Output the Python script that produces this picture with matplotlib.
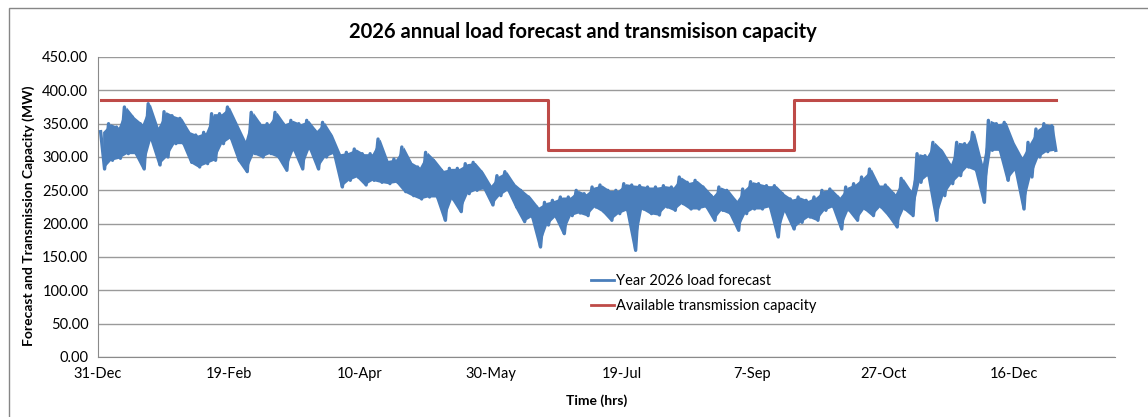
import numpy as np
import matplotlib
matplotlib.use("Agg")
import matplotlib.pyplot as plt
import matplotlib.dates as mdates
from matplotlib.patches import Rectangle
from datetime import datetime, timedelta

plt.rcParams['font.family'] = ['Lato', 'DejaVu Sans']

# Нагрузка (МВт): пары максимум/минимум, по порядку от 1 января
load_jan_mar = [338, 282, 350, 295, 345, 298, 375, 305, 360, 305, 350, 282,
                380, 325, 345, 288, 368, 300, 362, 320, 358, 320, 338, 292,
                333, 285, 337, 290, 365, 295, 365, 320, 375, 328, 350, 295,
                325, 278, 367, 305, 350, 300, 350, 305, 367, 300, 350, 280]
load_mar_may = [355, 310, 350, 282, 355, 312, 340, 282, 352, 300, 333, 305,
                305, 255, 307, 265, 312, 270, 305, 258, 305, 265, 327, 262,
                295, 260, 297, 262, 315, 248, 292, 242, 285, 237, 307, 240,
                295, 240, 280, 205, 283, 237, 283, 218, 290, 245, 292, 250]
load_may_aug = [278, 252, 258, 228, 272, 242, 278, 250, 260, 225, 250, 203,
                240, 210, 225, 165, 232, 198, 235, 210, 240, 185, 240, 212,
                250, 216, 245, 212, 255, 225, 258, 218, 250, 205, 250, 215,
                260, 220, 258, 160, 257, 222, 255, 215, 255, 213, 257, 225]
load_aug_oct = [255, 220, 270, 230, 262, 222, 265, 222, 255, 225, 242, 205,
                255, 220, 250, 215, 235, 190, 252, 215, 263, 222, 260, 222,
                257, 225, 257, 180, 245, 218, 237, 192, 240, 202, 235, 210,
                240, 205, 250, 220, 252, 225, 240, 192, 255, 220, 260, 205]
load_oct_dec = [270, 222, 282, 212, 258, 225, 258, 212, 245, 195, 268, 222,
                250, 212, 305, 262, 302, 272, 322, 205, 310, 242, 290, 260,
                322, 272, 320, 285, 337, 280, 290, 232, 355, 310, 350, 310,
                352, 265, 322, 280, 300, 222, 322, 270, 342, 300, 350, 308,
                347, 310]

# Пропускная способность (МВт) по периодам
capacity_mw = [385, 310, 385]
capacity_dates = [datetime(2026, 1, 1), datetime(2026, 6, 21),
                  datetime(2026, 9, 23), datetime(2026, 12, 31, 23)]

load = np.array(load_jan_mar + load_mar_may + load_may_aug + load_aug_oct + load_oct_dec)
start = datetime(2026, 1, 1)
end = datetime(2026, 12, 31, 23)
t = [start + (end - start) * k / (len(load) - 1) for k in range(len(load))]

# максимумы и минимумы каждой пары
hi = load[0::2]
lo = load[1::2]
t_pair = [start + (end - start) * (k + 0.25) / (len(hi) - 0.5) for k in range(len(hi))]

cap_x = capacity_dates
cap_y = capacity_mw + [capacity_mw[-1]]

blue = '#4A7EBB'
fig = plt.figure(figsize=(11.48, 4.17), dpi=100)
ax = fig.add_axes([98 / 1148, 60 / 417, 1017 / 1148, 300 / 417])

ax.fill_between(t_pair, lo, hi, color=blue, lw=0, zorder=2)
ax.plot(t, load, color=blue, lw=2.4, label='Year 2026 load forecast', zorder=3)
ax.step(cap_x, cap_y, where='post', color='#BE4B48', lw=2.2,
        label='Available transmission capacity', zorder=4)

x0 = datetime(2025, 12, 31)
ax.set_xlim(x0, x0 + timedelta(days=388.6))
ax.set_ylim(0, 450)
ax.set_yticks(np.arange(0, 451, 50))
ax.yaxis.set_major_formatter(plt.FuncFormatter(lambda v, p: f"{v:.2f}"))
ax.set_xticks([x0 + timedelta(days=50 * k) for k in range(8)])
ax.xaxis.set_major_formatter(plt.FuncFormatter(
    lambda v, p: f"{mdates.num2date(v).day}-{mdates.num2date(v):%b}"))

ax.grid(axis='y', color='#9a9a9a', lw=1)
ax.set_axisbelow(True)
for s in ['top', 'right']:
    ax.spines[s].set_visible(False)
for s in ['left', 'bottom']:
    ax.spines[s].set_color('#8a8a8a')
ax.tick_params(length=0, labelsize=10.5, pad=7)

fig.text(583 / 1148, 1 - 32 / 417, "2026 annual load forecast and transmisison capacity",
         fontsize=14.5, fontweight='bold', ha='center', va='center')
ax.set_ylabel("Forecast and Transmission Capacity (MW)", fontsize=10, fontweight='bold')
ax.yaxis.set_label_coords(-0.062, 0.47)
ax.set_xlabel("Time (hrs)", fontsize=10, fontweight='bold')
ax.xaxis.set_label_coords((597 - 98) / 1017, -0.125)

leg = ax.legend(loc='upper left', bbox_to_anchor=(0.472, 0.32), frameon=False,
                fontsize=10.5, handlelength=1.6, handletextpad=0.1, labelspacing=0.75)
for h in leg.get_lines():
    h.set_linewidth(2)

fig.patches.append(Rectangle((8.5 / 1148, -0.01), 1.1, (417 - 7.5) / 417 + 0.01,
                             transform=fig.transFigure, fill=False,
                             edgecolor='#868686', lw=1))

fig.savefig("out.png", dpi=100)
